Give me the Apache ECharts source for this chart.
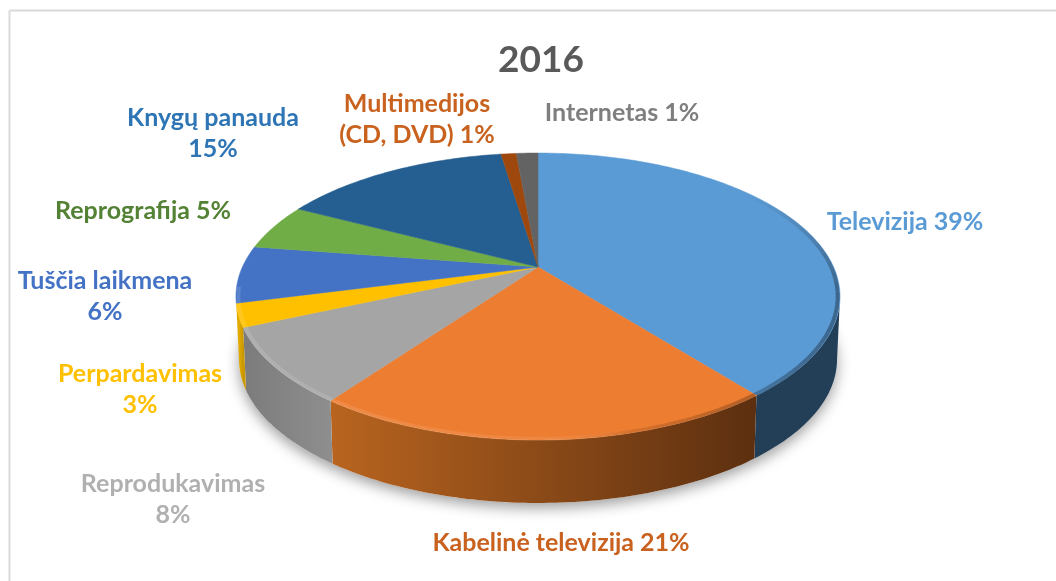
<!DOCTYPE html>
<html>
<head>
<meta charset="utf-8">
<style>
html, body { margin: 0; padding: 0; background: #fff; }
#main { width: 1056px; height: 581px; }
</style>
<script src="https://cdn.jsdelivr.net/npm/echarts@6/dist/echarts.min.js"></script>
</head>
<body>
<div id="main"></div>
<script>
// duomenys
var categories = ['Televizija', 'Kabelinė televizija', 'Reprodukavimas', 'Perpardavimas', 'Tuščia laikmena', 'Reprografija', 'Knygų panauda', 'Multimedijos\n(CD, DVD)', 'Internetas'];
var values = [39.2, 20.5, 8.4, 2.6, 6.4, 5.2, 14.9, 1, 1.4];
var labelBreaks = [' ', ' ', '\n', '\n', '\n', ' ', '\n', ' ', ' '];

// spalvos
var topColors = ['#5b9bd5', '#ed7d31', '#a5a5a5', '#ffc000', '#4472c4', '#70ad47', '#255e91', '#9e480e', '#636363'];
var textColors = ['#5b9bd5', '#c8621e', '#b0b0b0', '#ffc000', '#4472c4', '#548235', '#2e75b6', '#c8621e', '#7f7f7f'];
var wallLeft = ['#233f58', '#b8641f', '#7c7c7c', '#e0aa00', '#2f5597', '#507e33', '#1b4468', '#6e320a', '#464646'];
var wallRight = ['#233f58', '#5c2f10', '#8e8e8e', '#c99800', '#2f5597', '#507e33', '#1b4468', '#6e320a', '#464646'];

// etikečių centrai
var labelPos = [[905, 222], [561, 543], [173, 499], [140, 389], [105, 296], [143, 211], [213, 133], [417, 119], [622, 113]];

// pseudo 3D projekcija (apskritimas -> perspektyvos elipsė)
var cx = 538, cy = 267, rx = 295.6, ry = 137.4, persp = 0.2056, depth = 63;
var total = values.reduce(function (a, b) { return a + b; }, 0);

function rim(deg) {
    var a = deg * Math.PI / 180;
    var u = Math.sin(a), v = -Math.cos(a);
    var d = 1 - persp * v;
    return [cx + rx * u / d, cy + ry * v / d];
}

function arc(from, to, dx, dy) {
    var pts = [];
    var n = Math.max(2, Math.ceil(Math.abs(to - from)));
    for (var i = 0; i <= n; i++) {
        var p = rim(from + (to - from) * i / n);
        pts.push([cx + (p[0] - cx) * dx, p[1] + dy]);
    }
    return pts;
}

// lankas šiek tiek į vidų nuo krašto
function insetArc(from, to, k) {
    return arc(from, to, 1, 0).map(function (p) {
        return [cx + (p[0] - cx) * k, 296 + (p[1] - 296) * k];
    });
}

var wallFrom = 101.9, wallTo = 258.1;
var bevelFrom = 52, bevelFull = 100, bevelTo = 262;

function renderSlice(params, api) {
    var i = params.dataIndex;
    var before = 0;
    for (var k = 0; k < i; k++) before += values[k];
    var start = before / total * 360;
    var end = start + api.value(0) / total * 360;
    var children = [];

    if (i === 0) {
        // šešėlis po pyragu
        children.push({
            type: 'polygon',
            shape: { points: arc(0, 360, 0.99, depth) },
            style: { fill: '#fff', shadowBlur: 14, shadowColor: 'rgba(0,0,0,0.38)', shadowOffsetY: 5 }
        });
    }

    var a = Math.max(start, wallFrom), b = Math.min(end, wallTo);
    if (b > a) {
        var upper = arc(a, b, 1, 0);
        var lower = arc(b, a, 0.99, depth);
        children.push({
            type: 'polygon',
            shape: { points: upper.concat(lower) },
            style: {
                fill: new echarts.graphic.LinearGradient(Math.min(upper[0][0], lower[0][0]), 0, Math.max(upper[0][0], lower[0][0]), 0, [
                    { offset: 0, color: wallLeft[i] },
                    { offset: 1, color: wallRight[i] }
                ], true)
            }
        });
    }

    children.push({
        type: 'polygon',
        shape: { points: [[cx, cy]].concat(arc(start, end, 1, 0)) },
        style: { fill: topColors[i], stroke: topColors[i], lineWidth: 0.5 }
    });

    // apvadas ties kraštu, dešinėje ryškėja palaipsniui
    var c = Math.max(start, bevelFrom), d = Math.min(end, bevelTo);
    var stroke = new echarts.graphic.LinearGradient(240, 0, 840, 0, [
        { offset: 0, color: 'rgba(255,255,255,0.12)' },
        { offset: 0.55, color: 'rgba(255,255,255,0.07)' },
        { offset: 0.66, color: 'rgba(0,0,0,0.1)' },
        { offset: 1, color: 'rgba(0,0,0,0.35)' }
    ], true);
    for (var t = c; t < d; t += 4) {
        children.push({
            type: 'polyline',
            shape: { points: insetArc(t, Math.min(t + 4, d), 0.992) },
            style: { fill: null, lineWidth: 4, stroke: stroke, opacity: Math.min(1, (t - bevelFrom + 2) / (bevelFull - bevelFrom)) }
        });
    }

    children.push({
        type: 'text',
        style: {
            text: categories[i] + labelBreaks[i] + Math.round(api.value(0)) + '%',
            x: labelPos[i][0],
            y: labelPos[i][1],
            align: 'center',
            verticalAlign: 'middle',
            fill: textColors[i],
            font: 'bold 25px Lato',
            lineHeight: 31
        }
    });

    return { type: 'group', children: children };
}

var myChart = echarts.init(document.getElementById('main'));

myChart.setOption({
    animation: false,
    backgroundColor: '#fff',
    title: {
        text: '2016',
        left: 536,
        top: 37,
        textAlign: 'center',
        textStyle: { fontFamily: 'Lato', fontWeight: 'bold', fontSize: 37, color: '#595959' }
    },
    graphic: [
        { type: 'line', shape: { x1: 9.5, y1: 10.5, x2: 1056, y2: 10.5 }, style: { stroke: '#d9d9d9', lineWidth: 2 } },
        { type: 'line', shape: { x1: 9.5, y1: 10.5, x2: 9.5, y2: 581 }, style: { stroke: '#d9d9d9', lineWidth: 2 } }
    ],
    series: [{
        type: 'custom',
        coordinateSystem: 'none',
        renderItem: renderSlice,
        data: values.map(function (v) { return [v]; })
    }]
});
</script>
</body>
</html>
